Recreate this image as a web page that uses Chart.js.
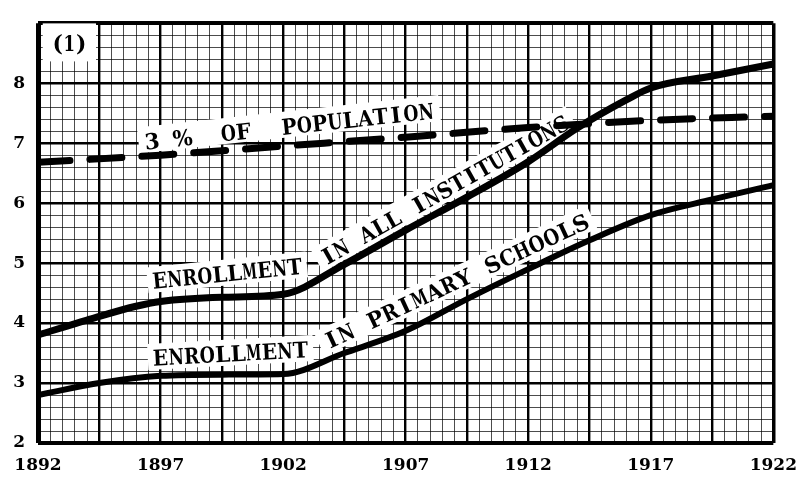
<!DOCTYPE html>
<html>
<head>
<meta charset="utf-8">
<script src="https://cdn.jsdelivr.net/npm/chart.js@4.4.1/dist/chart.umd.min.js"></script>
<style>
  body { margin: 0; background: #fff; }
  #wrap { width: 809px; height: 480px; }
</style>
</head>
<body>
<div id="wrap"><canvas id="chart" width="809" height="480"></canvas></div>
<script>
// values (millions)
const allYears = [1892, 1894, 1896, 1897, 1899.5, 1902, 1904.5, 1907, 1909.5, 1912, 1914, 1916, 1917, 1919.5, 1922];
const allInstitutions = [3.8, 4.05, 4.28, 4.36, 4.43, 4.48, 4.98, 5.55, 6.1, 6.69, 7.25, 7.72, 7.92, 8.12, 8.32];

const primaryYears = [1892, 1894.5, 1897, 1899.5, 1902, 1904.5, 1907, 1909.5, 1912, 1914.5, 1917, 1919.5, 1922];
const primarySchools = [2.8, 3.0, 3.12, 3.14, 3.15, 3.5, 3.87, 4.4, 4.9, 5.38, 5.8, 6.06, 6.3];

const popYears = [1892, 1897, 1902, 1907, 1912, 1917, 1922];
const threePctPopulation = [6.68, 6.8, 6.95, 7.1, 7.26, 7.38, 7.45];

const xTickYears = [1892, 1897, 1902, 1907, 1912, 1917, 1922];
const yTickValues = [2, 3, 4, 5, 6, 7, 8];

// typed labels laid along the curves: [year, value] of baseline start / end
const typedLabels = [
  { text: '(1)', from: [1892.56, 8.53], to: [1894.0, 8.53], pad: [9, 10, 12] },
  { text: '3 %  OF  POPULATION', from: [1896.38, 6.89], to: [1908.18, 7.41], pad: [6, 3, 7] },
  { text: 'ENROLLMENT', from: [1896.7, 4.57], to: [1902.8, 4.82], pad: [5, 4, 6] },
  { text: 'IN ALL INSTITUTIONS', from: [1903.73, 4.95], to: [1913.77, 7.26], pad: [5, 4, 6] },
  { text: 'ENROLLMENT', from: [1896.7, 3.29], to: [1903.04, 3.43], pad: [5, 4, 6] },
  { text: 'IN PRIMARY SCHOOLS', from: [1903.81, 3.55], to: [1914.57, 5.6], pad: [5, 4, 6] },
];

const toPoints = (xs, ys) => xs.map((x, i) => ({ x: x, y: ys[i] }));
const near = (a, b) => Math.abs(a - b) < 1e-6;
const typeFont = 'bold 22px "DejaVu Serif", serif';

function labelGeom(chart, lab) {
  const xs = chart.scales.x, ys = chart.scales.y;
  const x0 = xs.getPixelForValue(lab.from[0]), y0 = ys.getPixelForValue(lab.from[1]);
  const x1 = xs.getPixelForValue(lab.to[0]), y1 = ys.getPixelForValue(lab.to[1]);
  return { x0, y0, ang: Math.atan2(y1 - y0, x1 - x0), len: Math.hypot(x1 - x0, y1 - y0) };
}

const typedText = {
  id: 'typedText',
  beforeDatasetsDraw(chart) {
    const ctx = chart.ctx;
    typedLabels.forEach(lab => {
      const g = labelGeom(chart, lab);
      const [side, below, above] = lab.pad;
      ctx.save();
      ctx.translate(g.x0, g.y0);
      ctx.rotate(g.ang);
      ctx.fillStyle = '#fff';
      ctx.fillRect(-side, -16 - above, g.len + side * 2, 16 + above + below);
      ctx.restore();
    });
  },
  afterDatasetsDraw(chart) {
    const ctx = chart.ctx;
    typedLabels.forEach(lab => {
      const g = labelGeom(chart, lab);
      const pitch = g.len / lab.text.length;
      ctx.save();
      ctx.translate(g.x0, g.y0);
      ctx.rotate(g.ang);
      ctx.font = typeFont;
      ctx.fillStyle = '#000';
      ctx.textAlign = 'center';
      ctx.textBaseline = 'alphabetic';
      [...lab.text].forEach((ch, i) => {
        const room = ch === '%' ? pitch * 1.3 : pitch * 0.98;
        ctx.fillText(ch, (i + 0.5) * pitch, 0, room);
      });
      ctx.restore();
    });
  }
};

const minorGrid = 'rgba(0,0,0,0.7)';
const xGridWidth = ctx => {
  const v = ctx.tick.value;
  if (near(v, 1892)) return 5;
  if (near(v, 1922)) return 3.5;
  const k = (v - 1892) / 2.5;
  return near(k, Math.round(k)) ? 2.4 : 1;
};
const xGridColor = ctx => (xGridWidth(ctx) > 1 ? '#000' : minorGrid);
const yGridWidth = ctx => {
  const v = ctx.tick.value;
  if (near(v, 2) || near(v, 9)) return 4;
  return near(v, Math.round(v)) ? 2.4 : 1;
};
const yGridColor = ctx => (yGridWidth(ctx) > 1 ? '#000' : minorGrid);

new Chart(document.getElementById('chart'), {
  type: 'line',
  data: {
    datasets: [
      {
        label: 'Enrollment in all institutions',
        data: toPoints(allYears, allInstitutions),
        borderColor: '#000',
        borderWidth: 7,
        pointRadius: 0,
        cubicInterpolationMode: 'monotone',
      },
      {
        label: 'Enrollment in primary schools',
        data: toPoints(primaryYears, primarySchools),
        borderColor: '#000',
        borderWidth: 6,
        pointRadius: 0,
        cubicInterpolationMode: 'monotone',
      },
      {
        label: '3 % of population',
        data: toPoints(popYears, threePctPopulation),
        borderColor: '#000',
        borderWidth: 7,
        borderDash: [32, 20],
        borderCapStyle: 'round',
        pointRadius: 0,
        cubicInterpolationMode: 'monotone',
      },
    ],
  },
  options: {
    responsive: false,
    animation: false,
    layout: { padding: { top: 13, right: 24, left: 0, bottom: 0 } },
    scales: {
      x: {
        type: 'linear',
        min: 1892,
        max: 1922,
        afterFit: s => { s.height = 37; },
        border: { display: false },
        grid: {
          color: xGridColor,
          lineWidth: xGridWidth,
          drawTicks: false,
        },
        ticks: {
          stepSize: 0.5,
          autoSkip: false,
          minRotation: 0,
          maxRotation: 0,
          padding: 12,
          color: '#000',
          font: { family: 'DejaVu Serif', weight: 'bold', size: 17 },
          callback: v => {
            const hit = xTickYears.find(t => near(t, v));
            return hit !== undefined ? String(hit) : '';
          },
        },
      },
      y: {
        min: 2,
        max: 9,
        afterFit: s => { s.width = 38; },
        border: { display: false },
        grid: {
          color: yGridColor,
          lineWidth: yGridWidth,
          drawTicks: false,
        },
        ticks: {
          stepSize: 0.2,
          autoSkip: false,
          padding: 13,
          color: '#000',
          font: { family: 'DejaVu Serif', weight: 'bold', size: 17 },
          callback: v => {
            const hit = yTickValues.find(t => near(t, v));
            return hit !== undefined ? String(hit) : '';
          },
        },
      },
    },
    plugins: {
      legend: { display: false },
      tooltip: { enabled: false },
    },
  },
  plugins: [typedText],
});
</script>
</body>
</html>
